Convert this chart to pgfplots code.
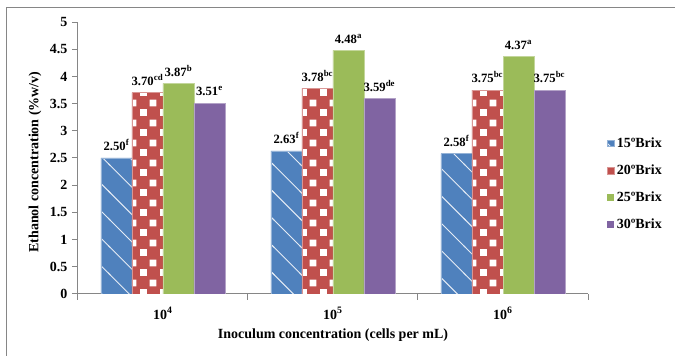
\documentclass[border=0pt]{standalone}
\usepackage{pgfplots}
\pgfplotsset{compat=1.18}
\usepackage{fontspec}
\setmainfont{Liberation Serif}
\usetikzlibrary{patterns}
\definecolor{cA}{HTML}{4F81BD}
\definecolor{cB}{HTML}{C0504D}
\definecolor{cC}{HTML}{9BBB59}
\definecolor{cD}{HTML}{8064A2}
\definecolor{axgray}{RGB}{134,134,134}
\pgfdeclarepatternformonly{diaglines}{\pgfqpoint{-1pt}{-1pt}}{\pgfqpoint{21.5pt}{21.5pt}}{\pgfqpoint{20.5pt}{20.5pt}}{%
  \pgfsetlinewidth{0.7pt}%
  \pgfpathmoveto{\pgfqpoint{-1pt}{21.5pt}}%
  \pgfpathlineto{\pgfqpoint{21.5pt}{-1pt}}%
  \pgfusepath{stroke}}
\pgfdeclarepatternformonly{checker}{\pgfqpoint{0pt}{0pt}}{\pgfqpoint{15pt}{15pt}}{\pgfqpoint{15pt}{15pt}}{%
  \pgfpathrectangle{\pgfqpoint{0pt}{0pt}}{\pgfqpoint{5.4pt}{5.4pt}}%
  \pgfpathrectangle{\pgfqpoint{7.5pt}{7.5pt}}{\pgfqpoint{5.4pt}{5.4pt}}%
  \pgfusepath{fill}}
\begin{document}
\begin{tikzpicture}
\useasboundingbox (-58.5pt,-46.5pt) rectangle (447.75pt,220.5pt);
\draw[axgray, line width=0.75pt] (-53.25pt,-47pt) -- (-53.25pt,214.5pt) -- (448pt,214.5pt);
\begin{axis}[
  at={(0pt,0pt)}, anchor=south west,
  width=382.5pt, height=204pt, scale only axis,
  xmin=-0.5, xmax=2.5, ymin=0, ymax=5,
  axis x line=bottom, axis y line=left,
  axis line style={draw=axgray, line width=0.75pt, -},
  ybar=0pt, bar width=23.25pt,
  ytick={0,0.5,...,5},
  xtick={0,1,2},
  xticklabels={10\textsuperscript{4},10\textsuperscript{5},10\textsuperscript{6}},
  minor xtick={-0.5,0.5,1.5,2.5},
  major x tick style={draw=none},
  tick align=outside,
  major tick length=4.5pt, minor tick length=4.5pt,
  tick style={draw=axgray, line width=0.75pt},
  /pgf/number format/assume math mode=true,
  ticklabel style={font=\fontsize{10.5}{12}\selectfont\bfseries},
  xticklabel style={yshift=-2pt},
  xlabel={Inoculum concentration (cells per mL)},
  ylabel={Ethanol concentration (\%w/v)},
  every axis x label/.style={at={(axis description cs:0.5,-0.151)}, anchor=center, font=\fontsize{10.5}{12}\selectfont\bfseries},
  every axis y label/.style={at={(axis description cs:-0.0843,0.485)}, anchor=center, rotate=90, font=\fontsize{10.5}{12}\selectfont\bfseries},
  point meta=explicit symbolic,
  nodes near coords={\pgfplotspointmeta},
  every node near coord/.append style={font=\fontsize{9.5}{11}\selectfont\bfseries, anchor=south, inner sep=0pt, yshift=5pt, black},
  legend style={at={(1.036,0.405)}, anchor=west, draw=none, fill=none, inner sep=0pt,
    font=\fontsize{10.5}{12}\selectfont\bfseries, row sep=7.5pt,
    /tikz/every even column/.append style={column sep=0pt}},
  legend cell align=left,
  legend image code/.code={\draw[#1, draw=none] (0pt,-2.6pt) rectangle (5.2pt,2.6pt);},
]
\addplot[fill=cA, draw=cA!60!white, line width=0.4pt, postaction={pattern=diaglines, pattern color=white!85!cA}]
  coordinates {(0,2.50) [2.50\textsuperscript{f}] (1,2.63) [2.63\textsuperscript{f}] (2,2.58) [2.58\textsuperscript{f}]};
\addplot[fill=cB, draw=cB!60!white, line width=0.4pt, postaction={pattern=checker, pattern color=white}]
  coordinates {(0,3.70) [3.70\textsuperscript{cd}] (1,3.78) [3.78\textsuperscript{bc}] (2,3.75) [3.75\textsuperscript{bc}]};
\addplot[fill=cC, draw=cC!60!white, line width=0.4pt]
  coordinates {(0,3.87) [3.87\textsuperscript{b}] (1,4.48) [4.48\textsuperscript{a}] (2,4.37) [4.37\textsuperscript{a}]};
\addplot[fill=cD, draw=cD!60!white, line width=0.4pt]
  coordinates {(0,3.51) [3.51\textsuperscript{e}] (1,3.59) [3.59\textsuperscript{de}] (2,3.75) [3.75\textsuperscript{bc}]};
\legend{15ºBrix,20ºBrix,25ºBrix,30ºBrix}
\end{axis}
\end{tikzpicture}
\end{document}
